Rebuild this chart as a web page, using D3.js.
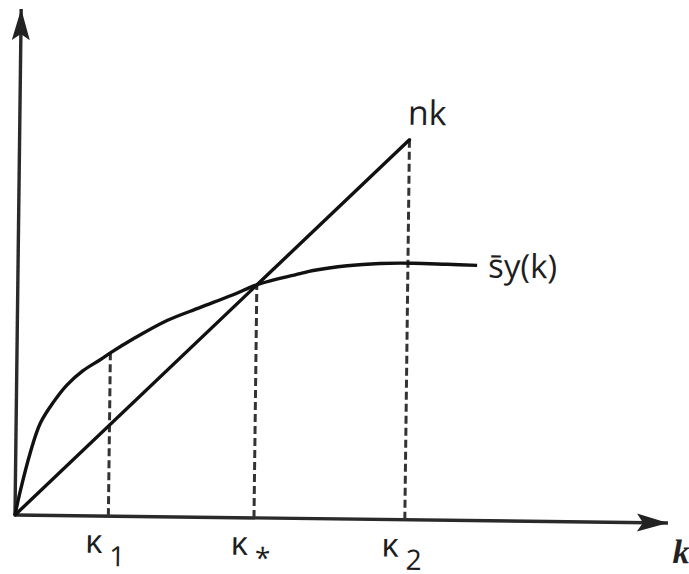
<!DOCTYPE html>
<html>
<head>
<meta charset="utf-8">
<script src="https://cdn.jsdelivr.net/npm/d3@7"></script>
<style>
  html, body { margin: 0; padding: 0; background: #fff; }
  svg { display: block; }
  .lbl { font-family: "Open Sans", "Noto Sans", sans-serif; fill: #1e1e1e; }
</style>
</head>
<body>
<svg id="chart" width="689" height="574"></svg>
<script>
// Solow growth diagram: savings curve s̄y(k) against the break-even line nk.
const capitalK   = [0, 0.07, 0.22, 0.37, 0.57, 0.77, 1.01, 1.27, 1.43, 1.78, 2.30, 2.79, 3.29, 3.66, 4.32, 4.52, 5.04, 5.54, 6.05, 6.57, 7.03];
const savingsSY  = [0, 0.34, 0.95, 1.41, 1.74, 2.00, 2.22, 2.39, 2.50, 2.72, 3.01, 3.21, 3.41, 3.57, 3.75, 3.80, 3.88, 3.92, 3.93, 3.92, 3.91];
const growthRate = 0.975;                 // slope n of the nk line
const markK      = [1.43, 3.66, 5.97];    // κ1, κ*, κ2
const markSub    = ["1", "*", "2"];
const xDomain    = [0, 10];
const yDomain    = [0, 7.75];

const svg = d3.select("#chart");

// the drawing sits on a slightly tilted frame with its origin at the lower left
const plot = svg.append("g")
  .attr("transform", "translate(15,515) rotate(0.7)");

const x = d3.scaleLinear().domain(xDomain).range([0, 653]);
const y = d3.scaleLinear().domain(yDomain).range([0, -506]);

// arrowheads
const defs = svg.append("defs");
defs.append("marker")
  .attr("id", "arrow")
  .attr("markerUnits", "userSpaceOnUse")
  .attr("viewBox", "-32 -10 34 20")
  .attr("refX", 0).attr("refY", 0)
  .attr("markerWidth", 34).attr("markerHeight", 20)
  .attr("orient", "auto")
  .append("path")
  .attr("d", "M0,0 L-31,-9 L-25,0 L-31,9 Z")
  .attr("fill", "#222");

const line = d3.line().x(d => x(d[0])).y(d => y(d[1]));

// axes
plot.append("path")
  .attr("d", line([[xDomain[0], 0], [xDomain[1], 0]]))
  .attr("stroke", "#2a2a2a").attr("stroke-width", 3.4).attr("fill", "none")
  .attr("marker-end", "url(#arrow)");
plot.append("path")
  .attr("d", line([[0, yDomain[0]], [0, yDomain[1]]]))
  .attr("stroke", "#2a2a2a").attr("stroke-width", 3.4).attr("fill", "none")
  .attr("marker-end", "url(#arrow)");

// dashed guides from the k axis to the curves
const curveAt = k => {
  const i = capitalK.indexOf(k);
  return i >= 0 ? savingsSY[i] : d3.scaleLinear().domain(capitalK).range(savingsSY)(k);
};
const guideTop = [curveAt(markK[0]), growthRate * markK[1], growthRate * markK[2]];
plot.selectAll("path.guide")
  .data(markK)
  .join("path")
  .attr("class", "guide")
  .attr("d", (k, i) => line([[k, 0], [k, guideTop[i]]]))
  .attr("stroke", "#333").attr("stroke-width", 3)
  .attr("stroke-dasharray", "8,4").attr("fill", "none");

// nk line
plot.append("path")
  .attr("d", line([[0, 0], [markK[2], growthRate * markK[2]]]))
  .attr("stroke", "#111").attr("stroke-width", 3.4).attr("fill", "none")
  .attr("stroke-linecap", "round");

// s̄y(k) curve
const curveLine = d3.line().x(d => x(d[0])).y(d => y(d[1])).curve(d3.curveCatmullRom.alpha(0.5));
plot.append("path")
  .attr("d", curveLine(capitalK.map((k, i) => [k, savingsSY[i]])))
  .attr("stroke", "#111").attr("stroke-width", 3.4).attr("fill", "none");

// curve labels
plot.append("text").attr("class", "lbl")
  .attr("x", x(markK[2]) - 2)
  .attr("y", y(growthRate * markK[2]) - 15)
  .attr("font-size", 34)
  .text("nk");

const lastK = capitalK[capitalK.length - 1], lastS = savingsSY[savingsSY.length - 1];
plot.append("text").attr("class", "lbl")
  .attr("x", x(lastK) + 11)
  .attr("y", y(lastS) + 12)
  .attr("font-size", 33)
  .text("s\u0304y(k)");

// κ labels under the axis
const marks = plot.selectAll("text.kmark")
  .data(markK)
  .join("text")
  .attr("class", "lbl kmark")
  .attr("x", k => x(k) - 23)
  .attr("y", 37)
  .attr("font-size", 33);
marks.append("tspan").text("κ");
marks.append("tspan")
  .attr("dx", 7).attr("dy", 13)
  .attr("font-size", 28)
  .text((k, i) => markSub[i]);

// axis name
plot.append("text")
  .attr("x", x(xDomain[1]) + 5)
  .attr("y", 40)
  .attr("font-family", "'Liberation Serif', 'DejaVu Serif', serif")
  .attr("font-style", "italic").attr("font-weight", "bold")
  .attr("font-size", 34).attr("fill", "#222")
  .text("k");
</script>
</body>
</html>
